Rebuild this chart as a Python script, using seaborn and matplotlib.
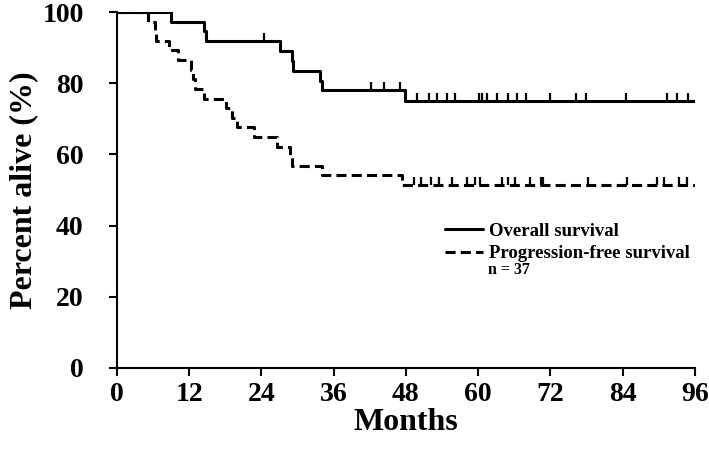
import numpy as np
import pandas as pd
import seaborn as sns
import matplotlib
matplotlib.use("Agg")
import matplotlib.pyplot as plt

# Kaplan-Meier step values (months, percent alive)
os_months = [0, 9.0, 14.5, 14.8, 27.0, 29.0, 29.3, 33.7, 34.0, 47.8, 96]
os_pct = [100, 97.3, 94.6, 91.9, 89.1, 86.3, 83.5, 80.7, 78.0, 74.9, 74.9]
os_censor = [24.4, 42.2, 44.4, 47.0, 49.9, 51.8, 53.2, 54.9, 56.2, 60.1, 60.6,
             61.4, 63.1, 65.0, 66.4, 68.0, 71.9, 76.3, 77.9, 84.5, 91.4, 93.0, 94.9]

pfs_months = [0, 5.2, 6.3, 6.5, 8.7, 10.2, 12.3, 12.7, 13.0, 14.5, 18.1, 19.1,
              19.9, 22.7, 26.6, 28.8, 29.0, 34.0, 47.4, 96]
pfs_pct = [100, 97.3, 94.6, 91.9, 89.2, 86.5, 83.8, 81.1, 78.4, 75.7, 73.0, 70.3,
           67.6, 64.9, 62.2, 59.5, 56.8, 54.1, 51.4, 51.4]
pfs_censor = [49.4, 50.5, 52.1, 53.5, 55.7, 58.2, 59.5, 60.3, 63.9, 65.0, 66.1,
              68.6, 70.5, 70.8, 78.2, 84.8, 89.7, 90.8, 93.3, 94.7]

x_ticks = [0, 12, 24, 36, 48, 60, 72, 84, 96]
y_ticks = [0, 20, 40, 60, 80, 100]

sns.set_style("white")
plt.rcParams['font.family'] = ['Liberation Serif', 'DejaVu Serif']
plt.rcParams['font.weight'] = 'bold'
plt.rcParams['text.color'] = 'black'
plt.rcParams['axes.labelcolor'] = 'black'
plt.rcParams['xtick.color'] = 'black'
plt.rcParams['ytick.color'] = 'black'

fig = plt.figure(figsize=(7.09, 4.62), dpi=100)
ax = fig.add_axes([0.165, 0.2035, 0.815, 0.7705])

os_df = pd.DataFrame({'months': os_months, 'pct': os_pct})
pfs_df = pd.DataFrame({'months': pfs_months, 'pct': pfs_pct})

sns.lineplot(data=os_df, x='months', y='pct', ax=ax, color='black', lw=2.2,
             drawstyle='steps-post', estimator=None, label='Overall survival')
sns.lineplot(data=pfs_df, x='months', y='pct', ax=ax, color='black', lw=2.2,
             linestyle=(0, (3.3, 1.7)), drawstyle='steps-post', estimator=None,
             label='Progression-free survival')


def step_value(t, months, pct):
    i = np.searchsorted(months, t, side='right') - 1
    return np.asarray(pct)[i]


# censor ticks
for cens, mo, pc in [(os_censor, os_months, os_pct), (pfs_censor, pfs_months, pfs_pct)]:
    cens = np.asarray(cens)
    base = step_value(cens, mo, pc)
    ax.vlines(cens, base, base + 2.3, color='black', lw=1.6)

ax.set_xlim(0, 96)
ax.set_ylim(0, 100)
ax.set_xticks(x_ticks)
ax.set_yticks(y_ticks)
ax.tick_params(axis='both', labelsize=20, direction='out', length=6, width=1.5,
               color='black', left=True, bottom=True)
ax.tick_params(axis='y', pad=18)
ax.tick_params(axis='x', pad=4)
for lab in ax.get_xticklabels() + ax.get_yticklabels():
    lab.set_fontweight('bold')

sns.despine(ax=ax)
for s in ['left', 'bottom']:
    ax.spines[s].set_linewidth(1.5)
    ax.spines[s].set_color('black')

ax.set_xlabel('Months', fontsize=23, fontweight='bold', labelpad=1)
ax.set_ylabel('Percent alive (%)', fontsize=23, fontweight='bold', labelpad=3)

leg = ax.legend(loc='upper left', bbox_to_anchor=(0.628, 0.518),
                bbox_transform=fig.transFigure, frameon=False, fontsize=13.5,
                handlelength=2.0, handletextpad=0.35, labelspacing=0.28,
                borderpad=0, borderaxespad=0)
for t in leg.get_texts():
    t.set_fontweight('bold')

fig.text(0.688, 0.406, 'n = 37', fontsize=11.5, fontweight='bold', va='baseline', ha='left')

fig.savefig('out.png', dpi=100)
